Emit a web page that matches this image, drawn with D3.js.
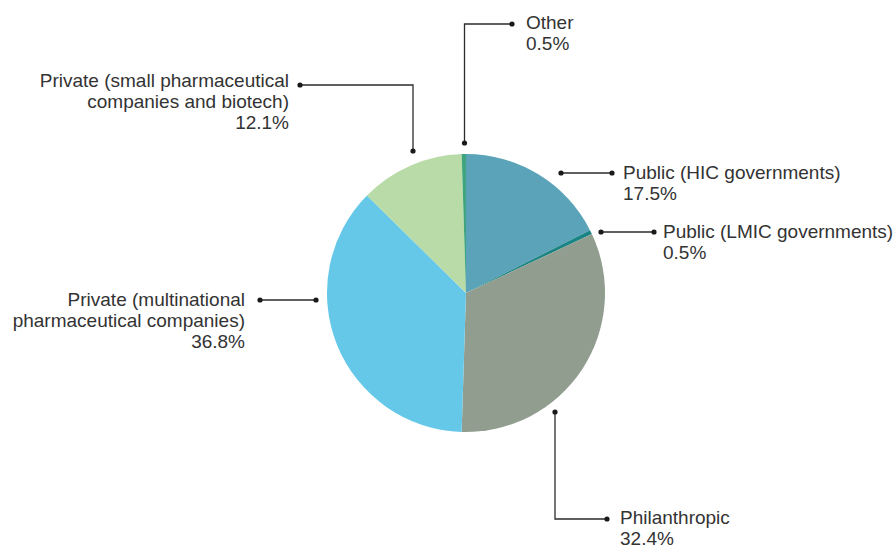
<!DOCTYPE html>
<html>
<head>
<meta charset="utf-8">
<script src="https://cdn.jsdelivr.net/npm/d3@7/dist/d3.min.js"></script>
<style>
  html, body { margin: 0; padding: 0; background: #fff; }
  svg { display: block; }
  text { font-family: "Liberation Sans", Arial, Helvetica, sans-serif; font-size: 19px; fill: #333; }
</style>
</head>
<body>
<svg id="chart" width="895" height="548"></svg>
<script>
// Funding sources, clockwise from 12 o'clock
const categories = [
  "Public (HIC governments)",
  "Public (LMIC governments)",
  "Philanthropic",
  "Private (multinational pharmaceutical companies)",
  "Private (small pharmaceutical companies and biotech)",
  "Other"
];
const shares = [17.5, 0.5, 32.4, 36.8, 12.1, 0.5];
const colors = ["#5ba3b8", "#1a8484", "#919e8f", "#65c8e8", "#b8dba8", "#3fa57c"];

// Label text lines for each slice
const labelLines = [
  ["Public (HIC governments)"],
  ["Public (LMIC governments)"],
  ["Philanthropic"],
  ["Private (multinational", "pharmaceutical companies)"],
  ["Private (small pharmaceutical", "companies and biotech)"],
  ["Other"]
];

// Leader line paths and text anchors (layout)
const leaders = [
  { pts: [[561, 173], [612, 173]], tx: 623, ty: 179, anchor: "start" },
  { pts: [[601, 232], [654, 232]], tx: 663, ty: 238, anchor: "start" },
  { pts: [[555, 412], [555, 519], [607, 519]], tx: 620, ty: 524, anchor: "start" },
  { pts: [[316, 300], [260, 300]], tx: 245, ty: 306, anchor: "end" },
  { pts: [[413, 151], [413, 85], [300, 85]], tx: 289, ty: 87, anchor: "end" },
  { pts: [[464.5, 143], [464.5, 24], [512, 24]], tx: 526, ty: 29, anchor: "start" }
];

const svg = d3.select("#chart");
const cx = 466, cy = 293, radius = 139;

const pie = d3.pie().sort(null).value(d => d);
const arc = d3.arc().innerRadius(0).outerRadius(radius);

const g = svg.append("g").attr("transform", `translate(${cx},${cy})`);
g.selectAll("path.slice")
  .data(pie(shares))
  .join("path")
  .attr("class", "slice")
  .attr("d", arc)
  .attr("fill", (d, i) => colors[i]);

const line = d3.line();
const lab = svg.append("g");
leaders.forEach((L, i) => {
  lab.append("path")
    .attr("d", line(L.pts))
    .attr("fill", "none")
    .attr("stroke", "#2b2b2b")
    .attr("stroke-width", 1.3);
  [L.pts[0], L.pts[L.pts.length - 1]].forEach(p => {
    lab.append("circle").attr("cx", p[0]).attr("cy", p[1]).attr("r", 2.6).attr("fill", "#1a1a1a");
  });
  const t = lab.append("text")
    .attr("x", L.tx).attr("y", L.ty)
    .attr("text-anchor", L.anchor);
  const lines = labelLines[i].concat([d3.format(".1f")(shares[i]) + "%"]);
  lines.forEach((s, k) => {
    t.append("tspan").attr("x", L.tx).attr("dy", k === 0 ? 0 : 21).text(s);
  });
});
</script>
</body>
</html>
